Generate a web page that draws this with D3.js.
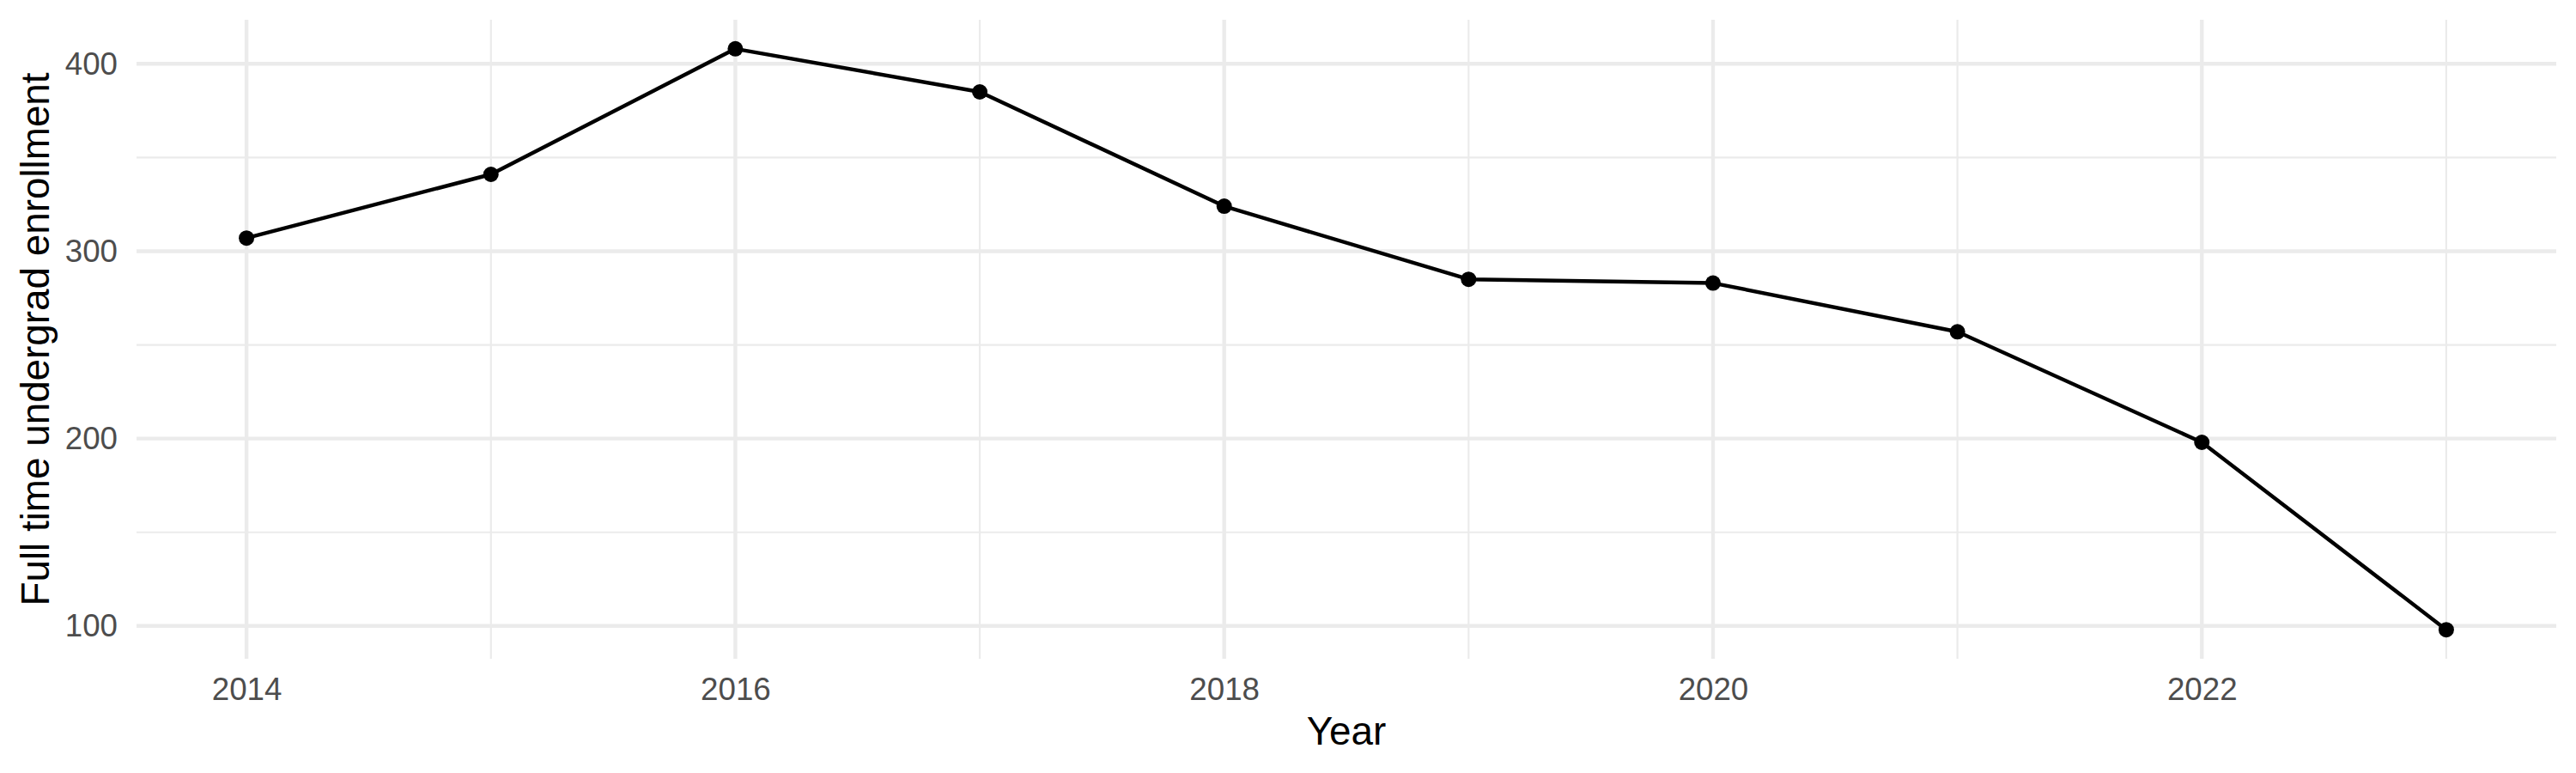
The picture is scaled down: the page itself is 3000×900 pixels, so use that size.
<!DOCTYPE html>
<html>
<head>
<meta charset="utf-8">
<script src="https://cdn.jsdelivr.net/npm/d3@7"></script>
<style>
  body { margin: 0; background: #fff; }
  svg text { font-family: "Liberation Sans", Arial, Helvetica, sans-serif; }
  .axis text { fill: #4d4d4d; font-size: 36.7px; }
  .axis path, .axis line { display: none; }
  .grid-major { stroke: #ebebeb; stroke-width: 4.4; }
  .grid-minor { stroke: #ebebeb; stroke-width: 2.2; }
  .title { fill: #000; font-size: 45.8px; }
</style>
</head>
<body>
<script>
// data
var years = [2014, 2015, 2016, 2017, 2018, 2019, 2020, 2021, 2022, 2023];
var enrollment = [307, 341, 408, 385, 324, 285, 283, 257, 198, 98];

var xMajor = [2014, 2016, 2018, 2020, 2022];
var xMinor = [2015, 2017, 2019, 2021, 2023];
var yMajor = [100, 200, 300, 400];
var yMinor = [150, 250, 350];

var W = 3000, H = 900;
var panel = { left: 159, right: 2977, top: 23, bottom: 767 };

function expand(lo, hi) {
  var e = (hi - lo) * 0.05;
  return [lo - e, hi + e];
}

var x = d3.scaleLinear()
  .domain(expand(d3.min(years), d3.max(years)))
  .range([panel.left, panel.right]);
var y = d3.scaleLinear()
  .domain(expand(d3.min(enrollment), d3.max(enrollment)))
  .range([panel.bottom, panel.top]);

var svg = d3.select("body").append("svg")
  .attr("width", W)
  .attr("height", H);

// grid lines, minor first then major
var grid = svg.append("g");
grid.selectAll("line.hmin").data(yMinor).enter().append("line")
  .attr("class", "grid-minor")
  .attr("x1", panel.left).attr("x2", panel.right)
  .attr("y1", function (d) { return y(d); })
  .attr("y2", function (d) { return y(d); });
grid.selectAll("line.vmin").data(xMinor).enter().append("line")
  .attr("class", "grid-minor")
  .attr("y1", panel.top).attr("y2", panel.bottom)
  .attr("x1", function (d) { return x(d); })
  .attr("x2", function (d) { return x(d); });
grid.selectAll("line.hmaj").data(yMajor).enter().append("line")
  .attr("class", "grid-major")
  .attr("x1", panel.left).attr("x2", panel.right)
  .attr("y1", function (d) { return y(d); })
  .attr("y2", function (d) { return y(d); });
grid.selectAll("line.vmaj").data(xMajor).enter().append("line")
  .attr("class", "grid-major")
  .attr("y1", panel.top).attr("y2", panel.bottom)
  .attr("x1", function (d) { return x(d); })
  .attr("x2", function (d) { return x(d); });

// axes (text only, theme_minimal look)
svg.append("g")
  .attr("class", "axis")
  .attr("transform", "translate(0," + panel.bottom + ")")
  .call(d3.axisBottom(x).tickValues(xMajor).tickSize(0).tickPadding(22)
    .tickFormat(d3.format("d")));

svg.append("g")
  .attr("class", "axis")
  .attr("transform", "translate(" + panel.left + ",0)")
  .call(d3.axisLeft(y).tickValues(yMajor).tickSize(0).tickPadding(22)
    .tickFormat(d3.format("d")));

// series
var pts = years.map(function (yr, i) { return [yr, enrollment[i]]; });

svg.append("path")
  .datum(pts)
  .attr("fill", "none")
  .attr("stroke", "#000")
  .attr("stroke-width", 4.4)
  .attr("stroke-linejoin", "round")
  .attr("d", d3.line()
    .x(function (d) { return x(d[0]); })
    .y(function (d) { return y(d[1]); }));

svg.selectAll("circle.pt").data(pts).enter().append("circle")
  .attr("class", "pt")
  .attr("cx", function (d) { return x(d[0]); })
  .attr("cy", function (d) { return y(d[1]); })
  .attr("r", 9)
  .attr("fill", "#000");

// axis titles
svg.append("text")
  .attr("class", "title")
  .attr("x", (panel.left + panel.right) / 2)
  .attr("y", 867)
  .attr("text-anchor", "middle")
  .text("Year");

svg.append("text")
  .attr("class", "title")
  .attr("transform", "translate(57," + (panel.top + panel.bottom) / 2 + ") rotate(-90)")
  .attr("text-anchor", "middle")
  .text("Full time undergrad enrollment");
</script>
</body>
</html>
